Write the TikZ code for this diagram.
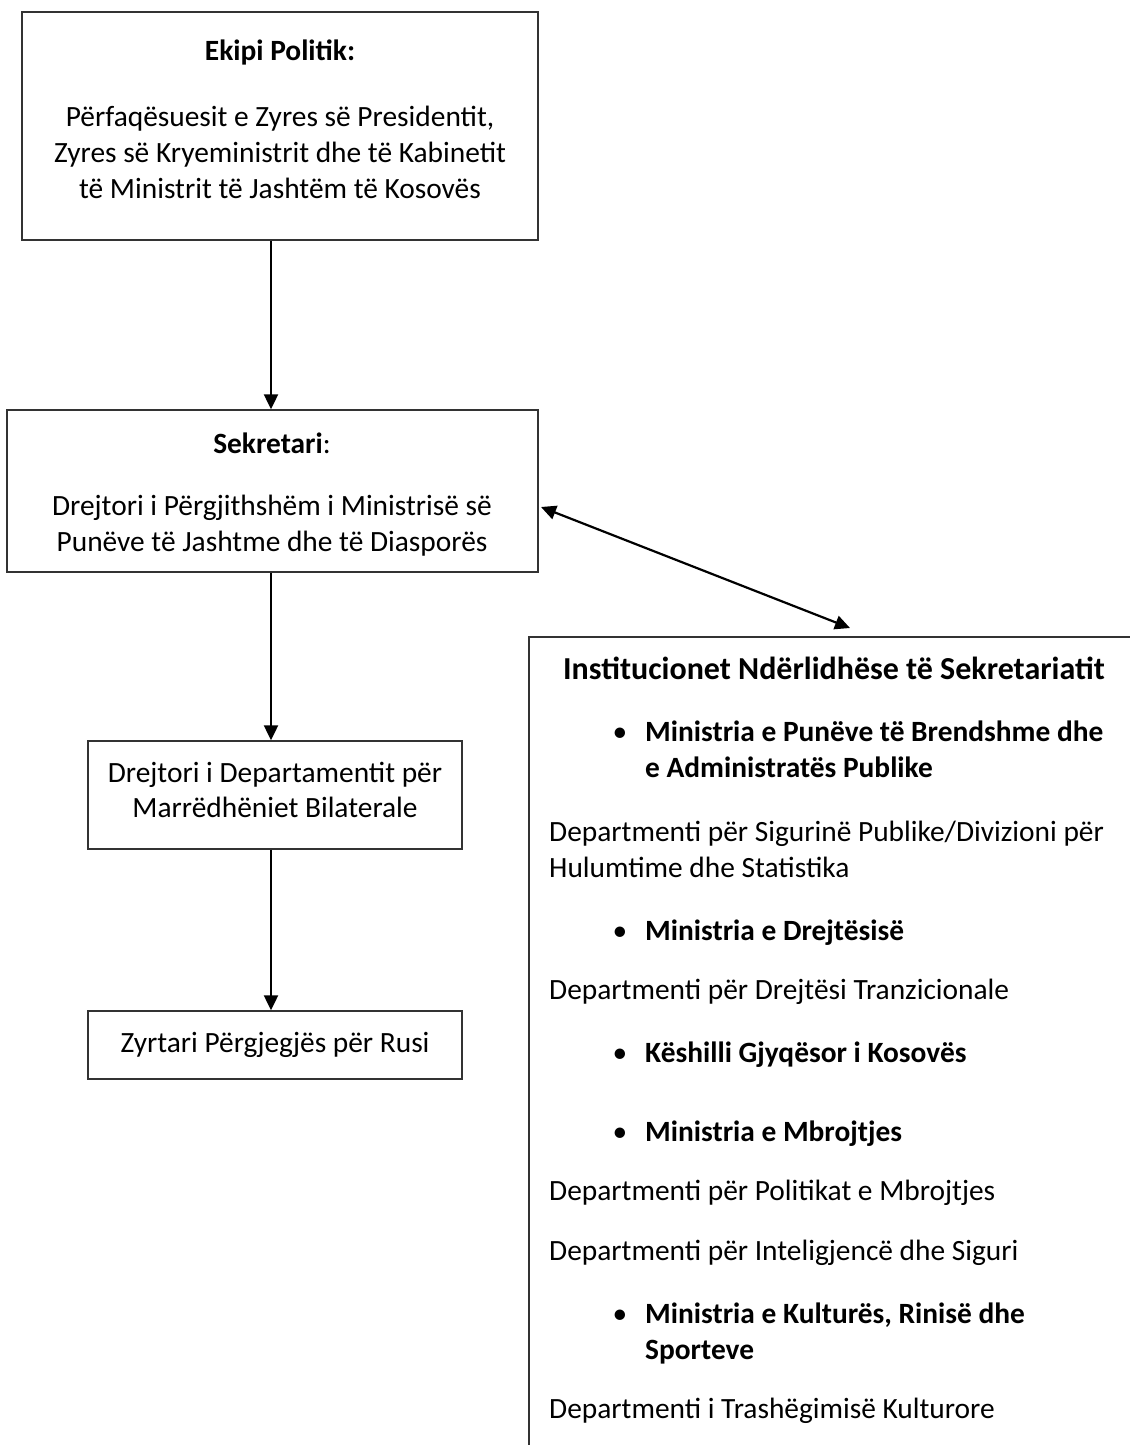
\documentclass[tikz,border=0pt]{standalone}
\usepackage{fontspec}
\setmainfont{Carlito}
\usetikzlibrary{arrows.meta}
\begin{document}
\begin{tikzpicture}[x=1pt,y=-1pt,
  box/.style={draw=black!80, line width=1.4pt, inner sep=0pt},
  txt/.style={font=\fontsize{29.4}{36}\selectfont, inner sep=0pt, anchor=base},
  ltxt/.style={font=\fontsize{29.4}{36}\selectfont, inner sep=0pt, anchor=base west},
  ttl/.style={font=\fontsize{32}{39}\selectfont\bfseries, inner sep=0pt, anchor=base},
  conn/.style={line width=2.2pt, -{Triangle[length=15pt,width=14pt]}},
  biconn/.style={line width=2.2pt, {Triangle[length=15pt,width=14pt]}-{Triangle[length=15pt,width=14pt]}},
]
\useasboundingbox (0,0) rectangle (1130,1445);
% boxes
\node[box, minimum width=516pt, minimum height=228pt] (b1) at (280,126) {};
\node[box, minimum width=531pt, minimum height=162pt] (b2) at (272.5,491) {};
\node[box, minimum width=374pt, minimum height=108pt] (b3) at (275,795) {};
\node[box, minimum width=374pt, minimum height=68pt] (b4) at (275,1045) {};
\node[inner sep=0pt, minimum width=601pt, minimum height=808pt, anchor=north west] (inst) at (529,637) {};
\draw[box] (inst.south west) -- (inst.north west) -- (inst.north east);
% texts box 1
\node[txt] (t1a) at (280,60) {\textbf{Ekipi Politik:}};
\node[txt] (t1b) at (280,126) {Përfaqësuesit e Zyres së Presidentit,};
\node[txt] (t1c) at (280,162) {Zyres së Kryeministrit dhe të Kabinetit};
\node[txt] (t1d) at (280,198) {të Ministrit të Jashtëm të Kosovës};
% box 2
\node[txt] (t2a) at (272,453) {\textbf{Sekretari}:};
\node[txt] (t2b) at (272,515) {Drejtori i Përgjithshëm i Ministrisë së};
\node[txt] (t2c) at (272,551) {Punëve të Jashtme dhe të Diasporës};
% box 3
\node[txt] (t3a) at (275,782) {Drejtori i Departamentit për};
\node[txt] (t3b) at (275,817) {Marrëdhëniet Bilaterale};
% box 4
\node[txt] (t4a) at (275,1052) {Zyrtari Përgjegjës për Rusi};
% right column
\node[ttl] (r0) at (834,679) {Institucionet Ndërlidhëse të Sekretariatit};
\node[txt] (p1) at (620,741) {\textbullet};
\node[ltxt] (r1a) at (645,741) {\textbf{Ministria e Punëve të Brendshme dhe}};
\node[ltxt] (r1b) at (645,777) {\textbf{e Administratës Publike}};
\node[ltxt] (r2a) at (549,841) {Departmenti për Sigurinë Publike/Divizioni për};
\node[ltxt] (r2b) at (549,877) {Hulumtime dhe Statistika};
\node[txt] (p2) at (620,940) {\textbullet};
\node[ltxt] (r3) at (645,940) {\textbf{Ministria e Drejtësisë}};
\node[ltxt] (r4) at (549,999) {Departmenti për Drejtësi Tranzicionale};
\node[txt] (p3) at (620,1062) {\textbullet};
\node[ltxt] (r5) at (645,1062) {\textbf{Këshilli Gjyqësor i Kosovës}};
\node[txt] (p4) at (620,1141) {\textbullet};
\node[ltxt] (r6) at (645,1141) {\textbf{Ministria e Mbrojtjes}};
\node[ltxt] (r7) at (549,1200) {Departmenti për Politikat e Mbrojtjes};
\node[ltxt] (r8) at (549,1260) {Departmenti për Inteligjencë dhe Siguri};
\node[txt] (p5) at (620,1323) {\textbullet};
\node[ltxt] (r9a) at (645,1323) {\textbf{Ministria e Kulturës, Rinisë dhe}};
\node[ltxt] (r9b) at (645,1359) {\textbf{Sporteve}};
\node[ltxt] (r10) at (549,1418) {Departmenti i Trashëgimisë Kulturore};
% connectors
\coordinate (tipL) at (541,507);
\coordinate (tipR) at (850,628);
\draw[conn] (b1.south -| 271,0) -- (b2.north -| 271,0);
\draw[conn] (b2.south -| 271,0) -- (b3.north -| 271,0);
\draw[conn] (b3.south -| 271,0) -- (b4.north -| 271,0);
\draw[biconn] (tipL) -- (tipR);
\end{tikzpicture}
\end{document}
